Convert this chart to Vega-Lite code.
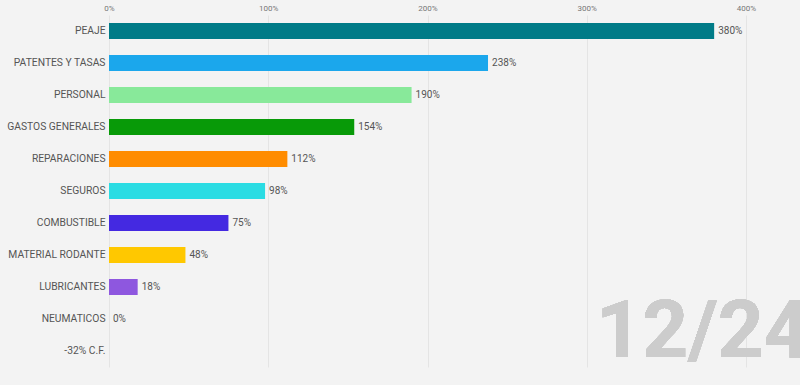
{
  "$schema": "https://vega.github.io/schema/vega-lite/v6.json",
  "width": 637,
  "height": 352,
  "autosize": "none",
  "padding": {"left": 109, "top": 15, "right": 54, "bottom": 18},
  "background": "#f3f3f3",
  "config": {
    "view": {"stroke": null},
    "font": "Roboto"
  },
  "data": {
    "values": [
      {"cat": "PEAJE", "v": 380, "lbl": "380%"},
      {"cat": "PATENTES Y TASAS", "v": 238, "lbl": "238%"},
      {"cat": "PERSONAL", "v": 190, "lbl": "190%"},
      {"cat": "GASTOS GENERALES", "v": 154, "lbl": "154%"},
      {"cat": "REPARACIONES", "v": 112, "lbl": "112%"},
      {"cat": "SEGUROS", "v": 98, "lbl": "98%"},
      {"cat": "COMBUSTIBLE", "v": 75, "lbl": "75%"},
      {"cat": "MATERIAL RODANTE", "v": 48, "lbl": "48%"},
      {"cat": "LUBRICANTES", "v": 18, "lbl": "18%"},
      {"cat": "NEUMATICOS", "v": 0, "lbl": "0%"},
      {"cat": "-32% C.F.", "v": null, "lbl": ""}
    ]
  },
  "encoding": {
    "y": {
      "field": "cat", "type": "nominal", "sort": null, "title": null,
      "scale": {"paddingInner": 0.5, "paddingOuter": 0.25},
      "axis": {"ticks": false, "domain": false, "labelFontSize": 10.3, "labelColor": "#555555", "labelPadding": 4}
    }
  },
  "layer": [
    {
      "mark": {"type": "bar"},
      "encoding": {
        "x": {
          "field": "v", "type": "quantitative", "title": null,
          "scale": {"domain": [0, 400], "nice": false},
          "axis": {"orient": "top", "values": [0, 100, 200, 300, 400], "labelExpr": "datum.value + '%'", "ticks": false, "domain": false, "labelFontSize": 8, "labelColor": "#777777", "labelPadding": 3, "gridColor": "#e4e4e4", "gridWidth": 1, "labelFlush": false}
        },
        "color": {
          "field": "cat", "type": "nominal", "legend": null,
          "scale": {
            "domain": ["PEAJE", "PATENTES Y TASAS", "PERSONAL", "GASTOS GENERALES", "REPARACIONES", "SEGUROS", "COMBUSTIBLE", "MATERIAL RODANTE", "LUBRICANTES", "NEUMATICOS", "-32% C.F."],
            "range": ["#007b87", "#1ba7ec", "#88e99a", "#089a08", "#ff8c00", "#2adce3", "#4429e1", "#ffc800", "#8e57df", "#999999", "#999999"]
          }
        }
      }
    },
    {
      "mark": {"type": "text", "align": "left", "dx": 4, "fontSize": 10, "color": "#555555"},
      "encoding": {
        "x": {"field": "v", "type": "quantitative"},
        "text": {"field": "lbl"}
      }
    },
    {
      "mark": {"type": "text", "align": "left", "baseline": "alphabetic", "fontSize": 80, "fontWeight": "bold", "color": "#cccccc", "dy": 6},
      "encoding": {
        "x": {"datum": 306},
        "y": {"datum": "-32% C.F."},
        "text": {"value": "12/24"}
      }
    }
  ]
}
